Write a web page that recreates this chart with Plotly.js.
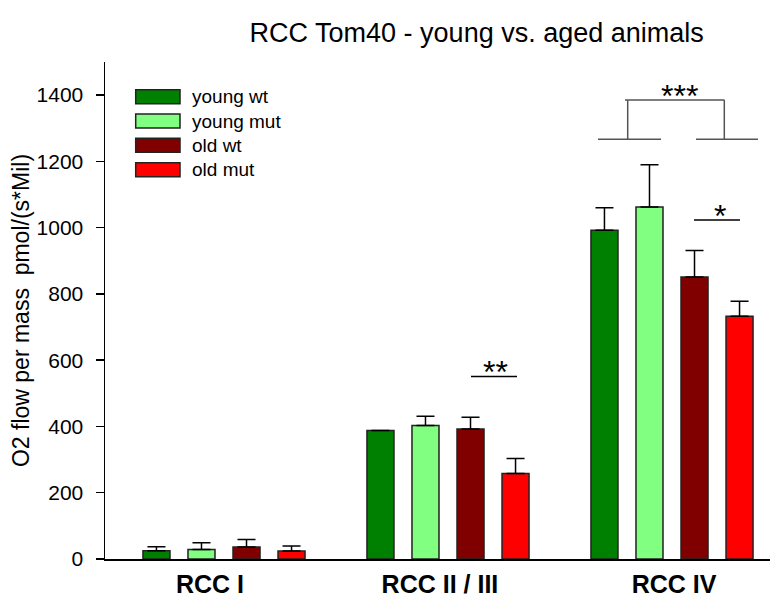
<!DOCTYPE html>
<html>
<head>
<meta charset="utf-8">
<script src="https://cdn.plot.ly/plotly-3.0.1.min.js"></script>
<style>html,body{margin:0;padding:0;background:#fff;}#chart{width:784px;height:597px;}</style>
</head>
<body>
<div id="chart"></div>
<script>
// ---- data ----
const categories = ["RCC I", "RCC II / III", "RCC IV"];
const seriesNames = ["young wt", "young mut", "old wt", "old mut"];
const youngWt  = [25, 388, 992];
const youngMut = [29, 403, 1062];
const oldWt    = [36, 392, 851];
const oldMut   = [24, 258, 733];
const youngWtErr  = [12, 0, 68];
const youngMutErr = [20, 28, 128];
const oldWtErr    = [23, 36, 80];
const oldMutErr   = [15, 45, 45];
const yTicks = [0, 200, 400, 600, 800, 1000, 1200, 1400];
const sigLabels = ["**", "***", "*"];

const FONT = "Liberation Sans, Arial, sans-serif";
const colors = ["#008000", "#80ff80", "#800000", "#ff0000"];
const values = [youngWt, youngMut, oldWt, oldMut];
const errs = [youngWtErr, youngMutErr, oldWtErr, oldMutErr];
const xPos = categories.map((c, i) => i);

// pixel helpers (plot area: x 105..770, y 62..559)
const L = 105, R = 770, T = 62, B = 559;
const xr = [(L - 224) / 224, (R - 224) / 224];
const yr = [0, 1500];
const px2x = p => xr[0] + (p - L) / (R - L) * (xr[1] - xr[0]);
const py2y = p => yr[0] + (B - p) / (B - T) * (yr[1] - yr[0]);

const traces = values.map((v, k) => ({
  type: "bar",
  name: seriesNames[k],
  x: xPos,
  y: v,
  marker: {color: colors[k], line: {color: "#222", width: 1.5}},
  error_y: {type: "data", symmetric: false, array: errs[k], arrayminus: v.map(() => 0),
            color: "#000", thickness: 1.5, width: 9},
  showlegend: false,
  hoverinfo: "y"
}));

const line = (x0, y0, x1, y1, c) => ({type: "line", xref: "x", yref: "y", x0, y0, x1, y1,
  line: {color: c || "#000", width: 1.5}});
const shapes = [
  line(px2x(471), 551, px2x(517), 551),
  line(px2x(625), 1385, px2x(724.5), 1385, "#555"),
  line(px2x(627.7), 1385, px2x(627.7), 1267, "#555"),
  line(px2x(724.3), 1385, px2x(724.3), 1267, "#555"),
  line(px2x(598), 1267, px2x(661), 1267, "#555"),
  line(px2x(696), 1267, px2x(758), 1267, "#555"),
  line(px2x(694), 1023, px2x(740), 1023)
];
const annotations = [
  {x: px2x(495), y: 551, text: sigLabels[0]},
  {x: px2x(679), y: 1385, text: sigLabels[1]},
  {x: px2x(720), y: 1023, text: sigLabels[2]}
].map(a => Object.assign(a, {xref: "x", yref: "y", showarrow: false, yanchor: "middle",
  yshift: 4, font: {family: FONT, size: 32, color: "#000"}}));

// custom legend (wide rectangles)
const legTop = [89.7, 114, 138.3, 162.7];
seriesNames.forEach((n, k) => {
  shapes.push({type: "rect", xref: "x", yref: "y",
    x0: px2x(135.7), x1: px2x(180), y0: py2y(legTop[k]), y1: py2y(legTop[k] + 14),
    fillcolor: colors[k], line: {color: "#222", width: 1.5}});
  annotations.push({xref: "x", yref: "y", x: px2x(190), y: py2y(legTop[k] + 7),
    xanchor: "left", yanchor: "middle", showarrow: false, text: n,
    font: {family: FONT, size: 19, color: "#000"}});
});

const layout = {
  width: 784, height: 597,
  margin: {l: L, r: 784 - R, t: T, b: 597 - B},
  paper_bgcolor: "#fff", plot_bgcolor: "#fff",
  barmode: "group", bargap: 0.196, bargroupgap: 0.4,
  title: {text: "RCC Tom40 - young vs. aged animals", x: 0.608, xanchor: "center", y: 0.945, yanchor: "middle",
          font: {family: FONT, size: 27, color: "#000"}},
  font: {family: FONT, color: "#000"},
  xaxis: {range: xr, tickmode: "array", tickvals: [-0.0625, 0.964, 2.009],
          ticktext: categories.map(c => "<b>" + c + "</b>"),
          showgrid: false, zeroline: false, showline: true, linecolor: "#000", linewidth: 2,
          ticks: "", ticklabelstandoff: 2, tickfont: {size: 25, family: FONT}, fixedrange: true},
  yaxis: {range: yr, tickmode: "array", tickvals: yTicks, showgrid: false, zeroline: false,
          showline: true, linecolor: "#000", linewidth: 1.5, ticks: "outside", ticklen: 8,
          tickwidth: 1.5, tickcolor: "#000", ticklabelstandoff: 8,
          tickfont: {size: 21, family: FONT},
          title: {text: "O2 flow per mass\u00a0 pmol/(s*Mil)", standoff: 0,
                  font: {size: 23, family: FONT}}},
  shapes, annotations
};

Plotly.newPlot("chart", traces, layout, {staticPlot: true, displayModeBar: false});
</script>
</body>
</html>
